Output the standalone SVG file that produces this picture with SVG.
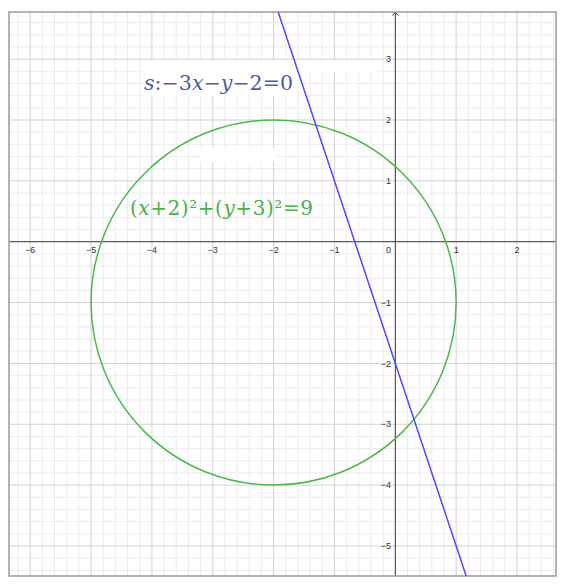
<svg xmlns="http://www.w3.org/2000/svg" width="561" height="586" viewBox="0 0 561 586">
<style>
.minor{stroke:#ececec;stroke-width:1;fill:none}
.major{stroke:#d2d2d2;stroke-width:1;fill:none}
.axis{stroke:#333;stroke-width:1;fill:none}
.tick{font-family:"Liberation Sans",Arial,sans-serif;font-size:9px;fill:#333}
.tx{text-anchor:middle}
.ty{text-anchor:end}
.math{font-family:"DejaVu Serif","Liberation Serif",serif}
</style>
<defs>
<clipPath id="plot"><rect x="9" y="12" width="547" height="564"/></clipPath>
</defs>
<rect x="0" y="0" width="561" height="586" fill="#fff"/>
<g id="grid" clip-path="url(#plot)">
<path class="minor" d="M18.03 12V576M42.37 12V576M54.54 12V576M66.71 12V576M78.88 12V576M103.22 12V576M115.39 12V576M127.56 12V576M139.73 12V576M164.07 12V576M176.24 12V576M188.41 12V576M200.58 12V576M224.92 12V576M237.09 12V576M249.26 12V576M261.43 12V576M285.77 12V576M297.94 12V576M310.11 12V576M322.28 12V576M346.62 12V576M358.79 12V576M370.96 12V576M383.13 12V576M407.47 12V576M419.64 12V576M431.81 12V576M443.98 12V576M468.32 12V576M480.49 12V576M492.66 12V576M504.83 12V576M529.17 12V576M541.34 12V576M553.51 12V576"/>
<path class="minor" d="M9 22.64H556M9 34.81H556M9 46.98H556M9 71.32H556M9 83.49H556M9 95.66H556M9 107.83H556M9 132.17H556M9 144.34H556M9 156.51H556M9 168.68H556M9 193.02H556M9 205.19H556M9 217.36H556M9 229.53H556M9 253.87H556M9 266.04H556M9 278.21H556M9 290.38H556M9 314.72H556M9 326.89H556M9 339.06H556M9 351.23H556M9 375.57H556M9 387.74H556M9 399.91H556M9 412.08H556M9 436.42H556M9 448.59H556M9 460.76H556M9 472.93H556M9 497.27H556M9 509.44H556M9 521.61H556M9 533.78H556M9 558.12H556M9 570.29H556"/>
<path class="major" d="M30.2 12V576M91.05 12V576M151.9 12V576M212.75 12V576M273.6 12V576M334.45 12V576M456.15 12V576M517 12V576"/>
<path class="major" d="M9 59.15H556M9 120H556M9 180.85H556M9 302.55H556M9 363.4H556M9 424.25H556M9 485.1H556M9 545.95H556"/>
<rect x="143" y="60" width="234" height="12" fill="#fff"/>
<rect x="143" y="72" width="155" height="24" fill="#fff"/>
<rect x="200" y="148" width="77" height="14" fill="#fff"/>
</g>
<g id="axes">
<path class="axis" d="M9 241.7H556"/>
<path class="axis" d="M395.3 12V576"/>
<path class="axis" d="M392.3 15.5L395.3 12.5L398.3 15.5"/>
</g>
<g id="tick-labels">
<text class="tick tx" x="30.2" y="252.5">−6</text>
<text class="tick tx" x="91.05" y="252.5">−5</text>
<text class="tick tx" x="151.9" y="252.5">−4</text>
<text class="tick tx" x="212.75" y="252.5">−3</text>
<text class="tick tx" x="273.6" y="252.5">−2</text>
<text class="tick tx" x="334.45" y="252.5">−1</text>
<text class="tick tx" x="388.5" y="252.5">0</text>
<text class="tick tx" x="456.15" y="252.5">1</text>
<text class="tick tx" x="517" y="252.5">2</text>
<text class="tick ty" x="391" y="62.3">3</text>
<text class="tick ty" x="391" y="123.2">2</text>
<text class="tick ty" x="391" y="184">1</text>
<text class="tick ty" x="391" y="305.7">−1</text>
<text class="tick ty" x="391" y="366.6">−2</text>
<text class="tick ty" x="391" y="427.4">−3</text>
<text class="tick ty" x="391" y="488.3">−4</text>
<text class="tick ty" x="391" y="549.1">−5</text>
</g>
<g id="frame">
<rect x="9" y="12" width="547" height="564" fill="none" stroke="#9a9a9a" stroke-width="1.5"/>
</g>
<g id="circle" clip-path="url(#plot)">
<circle cx="273.6" cy="302.55" r="182.55" fill="none" stroke="#4cb84c" stroke-width="1.5"/>
</g>
<g id="line-s" clip-path="url(#plot)">
<path d="M278.2 12L466.2 576" fill="none" stroke="#4b4bff" stroke-width="1.5"/>
</g>
<g id="label-s">
<text class="math" x="144" y="90" font-size="20.5" fill="#4c5aa8" textLength="149" lengthAdjust="spacing"><tspan font-style="italic">s</tspan>:−3<tspan font-style="italic">x</tspan>−<tspan font-style="italic">y</tspan>−2=0</text>
</g>
<g id="label-circle">
<text class="math" x="130" y="215" font-size="20" fill="#4cb04c" textLength="183" lengthAdjust="spacing">(<tspan font-style="italic">x</tspan>+2)²+(<tspan font-style="italic">y</tspan>+3)²=9</text>
</g>
</svg>
